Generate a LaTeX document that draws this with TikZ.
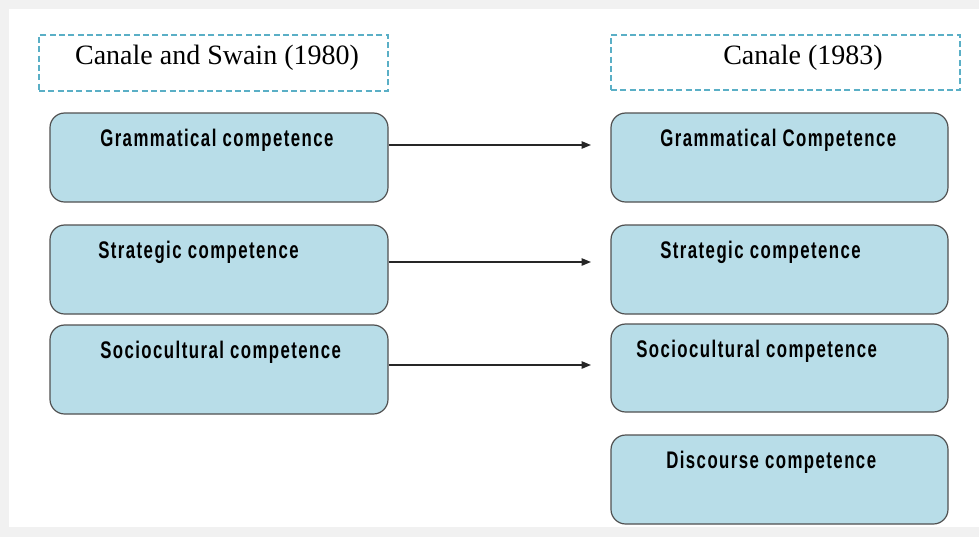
\documentclass[tikz,border=0pt]{standalone}
\usepackage{fontspec}
\setmainfont{Liberation Serif}
\newfontfamily\compfont[FakeStretch=0.7,LetterSpace=6]{Liberation Sans}
\usetikzlibrary{fit,arrows.meta}
\definecolor{pagegrey}{HTML}{F1F1F1}
\definecolor{boxfill}{HTML}{B8DDE8}
\definecolor{boxline}{HTML}{505050}
\definecolor{headline}{HTML}{5AAFC6}
\begin{document}
\begin{tikzpicture}[x=0.75pt,y=-0.75pt,
  compbox/.style={draw=boxline,line width=0.9pt,fill=boxfill,rounded corners=11pt,inner sep=0pt},
  headbox/.style={draw=headline,line width=0.9pt,dash pattern=on 4.5pt off 2.5pt,inner sep=0pt},
  headtext/.style={font=\fontsize{21}{25}\selectfont,inner sep=0pt,anchor=base},
  comptext/.style={font=\compfont\bfseries\fontsize{18}{21}\selectfont,inner sep=0pt,anchor=base west},
  link/.style={line width=1pt,draw=black!85,-{Triangle[length=7pt,width=5.5pt]}}]
  % page background and white panel
  \fill[pagegrey] (0,0) rectangle (979,537);
  \fill[white] (9,9) rectangle (979,527);
  \useasboundingbox (0,0) rectangle (979,537);

  % column headings
  \node[headbox,fit={(39,35)(388,91)}] (h1) {};
  \node[headbox,fit={(611,35)(960,90)}] (h2) {};
  \node[headtext] (h1t) at (217,64) {Canale and Swain (1980)};
  \node[headtext] (h2t) at (803,64) {Canale (1983)};

  % left column: Canale and Swain (1980)
  \node[compbox,fit={(50,113)(388,202)}] (l1) {};
  \node[compbox,fit={(50,225)(388,314)}] (l2) {};
  \node[compbox,fit={(50,325)(388,414)}] (l3) {};
  \node[comptext] (l1t) at (100,146) {Grammatical competence};
  \node[comptext] (l2t) at (98,258) {Strategic competence};
  \node[comptext] (l3t) at (100,358) {Sociocultural competence};

  % right column: Canale (1983)
  \node[compbox,fit={(611,113)(948,202)}] (r1) {};
  \node[compbox,fit={(611,225)(948,314)}] (r2) {};
  \node[compbox,fit={(611,324)(948,412)}] (r3) {};
  \node[compbox,fit={(611,435)(948,524)}] (r4) {};
  \node[comptext] (r1t) at (660,146) {Grammatical Competence};
  \node[comptext] (r2t) at (660,258) {Strategic competence};
  \node[comptext] (r3t) at (636,357) {Sociocultural competence};
  \node[comptext] (r4t) at (666,468) {Discourse competence};

  % arrow ends stop short of the right column
  \coordinate (a1) at (591,145);
  \coordinate (a2) at (591,262);
  \coordinate (a3) at (591,365);
  \draw[link] (l1.east |- a1) -- (a1);
  \draw[link] (l2.east |- a2) -- (a2);
  \draw[link] (l3.east |- a3) -- (a3);
\end{tikzpicture}
\end{document}
